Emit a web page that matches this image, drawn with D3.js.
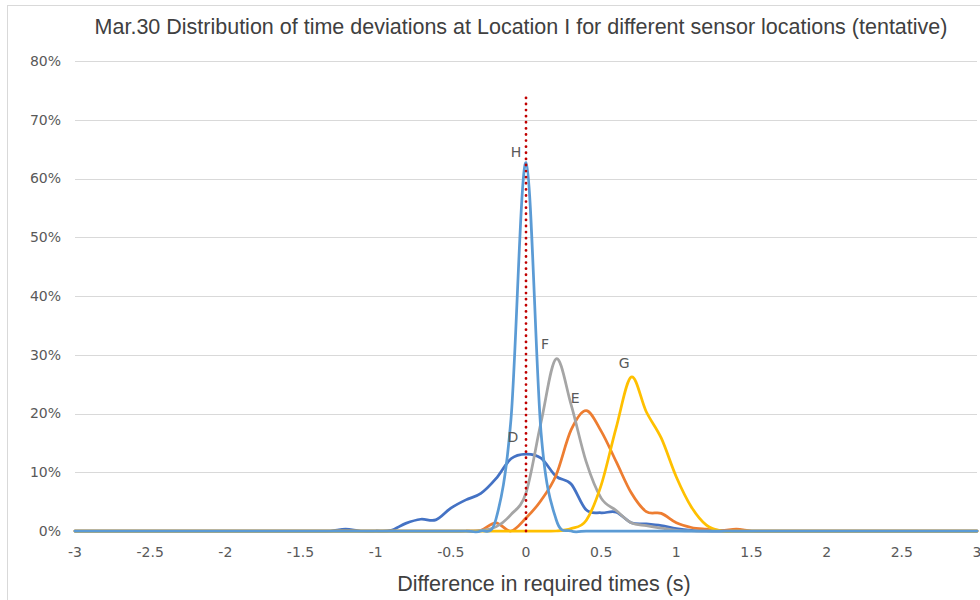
<!DOCTYPE html>
<html>
<head>
<meta charset="utf-8">
<script src="https://cdn.jsdelivr.net/npm/d3@7"></script>
<style>
	body { margin: 0; background: #fff; }
	.tick-label { font-family: 'DejaVu Sans', Verdana, sans-serif; font-size: 14px; fill: #595959; }
	.series-label { font-family: 'DejaVu Sans', Verdana, sans-serif; font-size: 14px; fill: #595959; }
	.title { font-family: 'Liberation Sans', Arial, sans-serif; font-size: 21.5px; fill: #404040; }
	.axis-title { font-family: 'Liberation Sans', Arial, sans-serif; font-size: 21.5px; fill: #404040; }
</style>
</head>
<body>
<div id="chart"></div>
<script>
// data ///////////////////////////////////////////////////////////////////////////////////
var titleText = 'Mar.30 Distribution of time deviations at Location I for different sensor locations (tentative)';
var xTitle = 'Difference in required times (s)';

var xTicks = [-3, -2.5, -2, -1.5, -1, -0.5, 0, 0.5, 1, 1.5, 2, 2.5, 3];
var xTickLabels = ['-3', '-2.5', '-2', '-1.5', '-1', '-0.5', '0', '0.5', '1', '1.5', '2', '2.5', '3'];
var yTicks = [0, 0.1, 0.2, 0.3, 0.4, 0.5, 0.6, 0.7, 0.8];
var yTickLabels = ['0%', '10%', '20%', '30%', '40%', '50%', '60%', '70%', '80%'];

// deviation (s), one value per bin
var xs = [-3.0, -2.9, -2.8, -2.7, -2.6, -2.5, -2.4, -2.3, -2.2, -2.1,
	-2.0, -1.9, -1.8, -1.7, -1.6, -1.5, -1.4, -1.3, -1.2, -1.1,
	-1.0, -0.9, -0.8, -0.7, -0.6, -0.5, -0.4, -0.3, -0.2, -0.1,
	0.0, 0.1, 0.2, 0.3, 0.4, 0.5, 0.6, 0.7, 0.8, 0.9,
	1.0, 1.1, 1.2, 1.3, 1.4, 1.5, 1.6, 1.7, 1.8, 1.9,
	2.0, 2.1, 2.2, 2.3, 2.4, 2.5, 2.6, 2.7, 2.8, 2.9, 3.0];

var seriesD = [0, 0, 0, 0, 0, 0, 0, 0, 0, 0,
	0, 0, 0, 0, 0, 0, 0, 0, 0.003, 0,
	0, 0.001, 0.013, 0.020, 0.019, 0.039, 0.053, 0.064, 0.089, 0.123,
	0.131, 0.124, 0.093, 0.080, 0.036, 0.031, 0.032, 0.014, 0.012, 0.009,
	0.004, 0.001, 0, 0, 0, 0, 0, 0, 0, 0,
	0, 0, 0, 0, 0, 0, 0, 0, 0, 0, 0];

var seriesE = [0, 0, 0, 0, 0, 0, 0, 0, 0, 0,
	0, 0, 0, 0, 0, 0, 0, 0, 0, 0,
	0, 0, 0, 0, 0, 0, 0, 0.001, 0.014, 0,
	0.022, 0.052, 0.095, 0.172, 0.205, 0.170, 0.118, 0.065, 0.033, 0.030,
	0.014, 0.006, 0.003, 0.001, 0.003, 0, 0, 0, 0, 0,
	0, 0, 0, 0, 0, 0, 0, 0, 0, 0, 0];

var seriesF = [0, 0, 0, 0, 0, 0, 0, 0, 0, 0,
	0, 0, 0, 0, 0, 0, 0, 0, 0, 0,
	0, 0, 0, 0, 0, 0, 0, 0.001, 0.007, 0.028,
	0.065, 0.185, 0.293, 0.215, 0.118, 0.056, 0.035, 0.014, 0.009, 0.005,
	0.001, 0, 0, 0, 0, 0, 0, 0, 0, 0,
	0, 0, 0, 0, 0, 0, 0, 0, 0, 0, 0];

var seriesG = [0, 0, 0, 0, 0, 0, 0, 0, 0, 0,
	0, 0, 0, 0, 0, 0, 0, 0, 0, 0,
	0, 0, 0, 0, 0, 0, 0, 0, 0, 0,
	0, 0, 0, 0.004, 0.018, 0.078, 0.176, 0.262, 0.203, 0.158,
	0.092, 0.041, 0.010, 0, 0, 0, 0, 0, 0, 0,
	0, 0, 0, 0, 0, 0, 0, 0, 0, 0, 0];

var seriesH = [0, 0, 0, 0, 0, 0, 0, 0, 0, 0,
	0, 0, 0, 0, 0, 0, 0, 0, 0, 0,
	0, 0, 0, 0, 0, 0, 0, 0, 0.02, 0.19,
	0.627, 0.168, 0.02, 0, 0, 0, 0, 0, 0, 0,
	0, 0, 0, 0, 0, 0, 0, 0, 0, 0,
	0, 0, 0, 0, 0, 0, 0, 0, 0, 0, 0];

var seriesNames = ['D', 'E', 'F', 'G', 'H'];
var seriesValues = [seriesD, seriesE, seriesF, seriesG, seriesH];
var seriesColors = ['#4472C4', '#ED7D31', '#A5A5A5', '#FFC000', '#5B9BD5'];

// reference line at zero deviation
var refX = [0, 0];
var refY = [0, 0.745];

// which point of each series gets its name
var labelAt = {D: 0, E: 0.4, F: 0.2, G: 0.7, H: 0};

// layout /////////////////////////////////////////////////////////////////////////////////
var width = 980, height = 600;
var plot = {left: 75, right: 977, top: 61, bottom: 531};
var labelOffset = {D: [-13, -12], E: [-11, -8], F: [-11, -10], G: [-7, -9], H: [-10, -6]};

var svg = d3.select('#chart').append('svg')
	.attr('width', width)
	.attr('height', height);

// chart area border (cropped on the right and bottom)
svg.append('rect')
	.attr('x', 7.5)
	.attr('y', 5.5)
	.attr('width', width + 20)
	.attr('height', height + 20)
	.attr('fill', '#fff')
	.attr('stroke', '#d9d9d9')
	.attr('stroke-width', 1);

var x = d3.scaleLinear().domain([-3, 3]).range([plot.left, plot.right]);
var y = d3.scaleLinear().domain([0, 0.8]).range([plot.bottom, plot.top]);

// gridlines
svg.append('g')
	.selectAll('line')
	.data(yTicks)
	.enter().append('line')
	.attr('x1', plot.left)
	.attr('x2', plot.right)
	.attr('y1', function(d) { return Math.round(y(d)) + 0.5; })
	.attr('y2', function(d) { return Math.round(y(d)) + 0.5; })
	.attr('stroke', '#d9d9d9')
	.attr('stroke-width', 1);

// y tick labels
svg.append('g')
	.selectAll('text')
	.data(yTicks)
	.enter().append('text')
	.attr('class', 'tick-label')
	.attr('x', plot.left - 14)
	.attr('y', function(d) { return y(d); })
	.attr('dy', '0.35em')
	.attr('text-anchor', 'end')
	.text(function(d, i) { return yTickLabels[i]; });

// x tick labels
svg.append('g')
	.selectAll('text')
	.data(xTicks)
	.enter().append('text')
	.attr('class', 'tick-label')
	.attr('x', function(d) { return x(d); })
	.attr('y', plot.bottom + 26)
	.attr('text-anchor', 'middle')
	.text(function(d, i) { return xTickLabels[i]; });

// series
var line = d3.line()
	.x(function(d) { return x(d[0]); })
	.y(function(d) { return y(d[1]); })
	.curve(d3.curveCardinal.tension(0));

var seriesData = seriesNames.map(function(name, i) {
	return {
		name: name,
		color: seriesColors[i],
		points: xs.map(function(v, j) { return [v, seriesValues[i][j]]; })
	};
});

svg.append('g')
	.selectAll('path')
	.data(seriesData)
	.enter().append('path')
	.attr('d', function(d) { return line(d.points); })
	.attr('fill', 'none')
	.attr('stroke', function(d) { return d.color; })
	.attr('stroke-width', 2.75)
	.attr('stroke-linejoin', 'round')
	.attr('stroke-linecap', 'round');

// red dotted reference line
svg.append('path')
	.attr('d', d3.line()
		.x(function(d) { return x(d[0]); })
		.y(function(d) { return y(d[1]); })(refX.map(function(v, i) { return [v, refY[i]]; })))
	.attr('fill', 'none')
	.attr('stroke', '#C00000')
	.attr('stroke-width', 2.75)
	.attr('stroke-linecap', 'round')
	.attr('stroke-dasharray', '0.1,6');

// series name labels
svg.append('g')
	.selectAll('text')
	.data(seriesData)
	.enter().append('text')
	.attr('class', 'series-label')
	.attr('x', function(d) { return x(labelAt[d.name]) + labelOffset[d.name][0]; })
	.attr('y', function(d) {
		var idx = xs.findIndex(function(v) { return Math.abs(v - labelAt[d.name]) < 1e-9; });
		return y(d.points[idx][1]) + labelOffset[d.name][1];
	})
	.attr('text-anchor', 'middle')
	.text(function(d) { return d.name; });

// titles
svg.append('text')
	.attr('class', 'title')
	.attr('x', 521)
	.attr('y', 34)
	.attr('text-anchor', 'middle')
	.text(titleText);

svg.append('text')
	.attr('class', 'axis-title')
	.attr('x', 544)
	.attr('y', 591)
	.attr('text-anchor', 'middle')
	.text(xTitle);
</script>
</body>
</html>
